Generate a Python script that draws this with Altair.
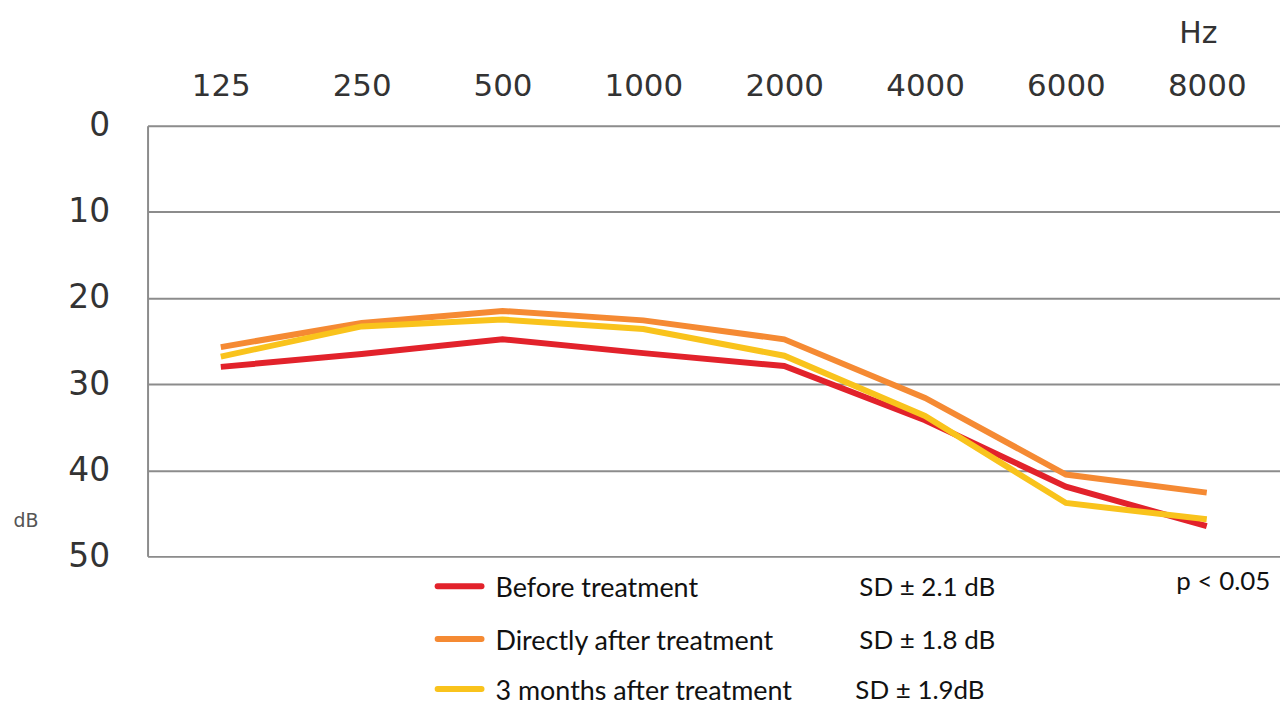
import altair as alt
import pandas as pd

freqs = ["125", "250", "500", "1000", "2000", "4000", "6000", "8000"]
before = [28.0, 26.5, 24.8, 26.4, 27.9, 34.2, 41.9, 46.5]
directly = [25.7, 22.9, 21.5, 22.6, 24.8, 31.6, 40.5, 42.6]
three_months = [26.8, 23.3, 22.5, 23.6, 26.7, 33.7, 43.8, 45.7]

series_names = ["Before treatment", "Directly after treatment", "3 months after treatment"]
series_sd = ["SD \u00b1 2.1 dB", "SD \u00b1 1.8 dB", "SD \u00b1 1.9dB"]
series_colors = ["#e2222b", "#f58a33", "#f9c31c"]
y_ticks = [0, 10, 20, 30, 40, 50]

rows = []
for name, vals in zip(series_names, [before, directly, three_months]):
    for f, v in zip(freqs, vals):
        rows.append({"freq": f, "db": v, "series": name})
df = pd.DataFrame(rows)

W, H = 1136, 432
AX_FONT = "DejaVu Sans"
LEG_FONT = "Lato"

x_enc = alt.X("freq:O", sort=freqs,
              scale=alt.Scale(type="point", padding=0.52),
              axis=alt.Axis(orient="top", title=None, domain=False, ticks=False,
                            labelAngle=0, labelFontSize=31, labelFont=AX_FONT,
                            labelColor="#333333", labelPadding=23, grid=False))
y_enc = alt.Y("db:Q",
              scale=alt.Scale(domain=[0, 50], reverse=True, nice=False, zero=False),
              axis=alt.Axis(values=y_ticks, title=None, grid=True, gridColor="#8c8c8c",
                            gridWidth=2, domain=True, domainColor="#8c8c8c", domainWidth=2,
                            ticks=False, labelFontSize=33, labelFont=AX_FONT,
                            labelColor="#333333", labelPadding=38))

layers = []
# draw in order red, orange, yellow
for name, col in zip(series_names, series_colors):
    layers.append(
        alt.Chart(df[df.series == name]).mark_line(strokeWidth=6, color=col).encode(
            x=x_enc, y=y_enc)
    )

row_y = [464, 517, 567]
sd_x = [714, 714, 710]
legend_layers = []
for name, sd, col, ry, sx in zip(series_names, series_sd, series_colors, row_y, sd_x):
    legend_layers.append(
        alt.Chart(pd.DataFrame({"t": [name]})).mark_rule(
            color=col, strokeWidth=6, strokeCap="round").encode(
            x=alt.value(291), x2=alt.value(335), y=alt.value(ry - 2)))
    legend_layers.append(
        alt.Chart(pd.DataFrame({"t": [name]})).mark_text(
            align="left", baseline="middle", fontSize=27, font=LEG_FONT,
            color="#111111").encode(text="t:N", x=alt.value(349), y=alt.value(ry + 1)))
    legend_layers.append(
        alt.Chart(pd.DataFrame({"t": [sd]})).mark_text(
            align="left", baseline="middle", fontSize=26, font=LEG_FONT,
            color="#111111").encode(text="t:N", x=alt.value(sx), y=alt.value(ry)))

extras = [
    alt.Chart(pd.DataFrame({"t": ["p < 0.05"]})).mark_text(
        align="left", baseline="middle", fontSize=26, font=LEG_FONT, color="#111111"
    ).encode(text="t:N", x=alt.value(1032), y=alt.value(458)),
    alt.Chart(pd.DataFrame({"t": ["Hz"]})).mark_text(
        align="center", baseline="middle", fontSize=30, font=AX_FONT, color="#333333"
    ).encode(text="t:N", x=alt.value(1054), y=alt.value(-92)),
    alt.Chart(pd.DataFrame({"t": ["dB"]})).mark_text(
        align="center", baseline="middle", fontSize=19, font=AX_FONT, color="#555555"
    ).encode(text="t:N", x=alt.value(-122), y=alt.value(397)),
]

chart = alt.layer(*layers, *legend_layers, *extras).properties(
    width=W, height=H,
    autosize="none",
    padding={"left": 140, "top": 117, "right": 0, "bottom": 150},
).configure_view(stroke=None).configure(background="white")

chart.save("out.html", embed_options={"renderer": "svg", "actions": False})
